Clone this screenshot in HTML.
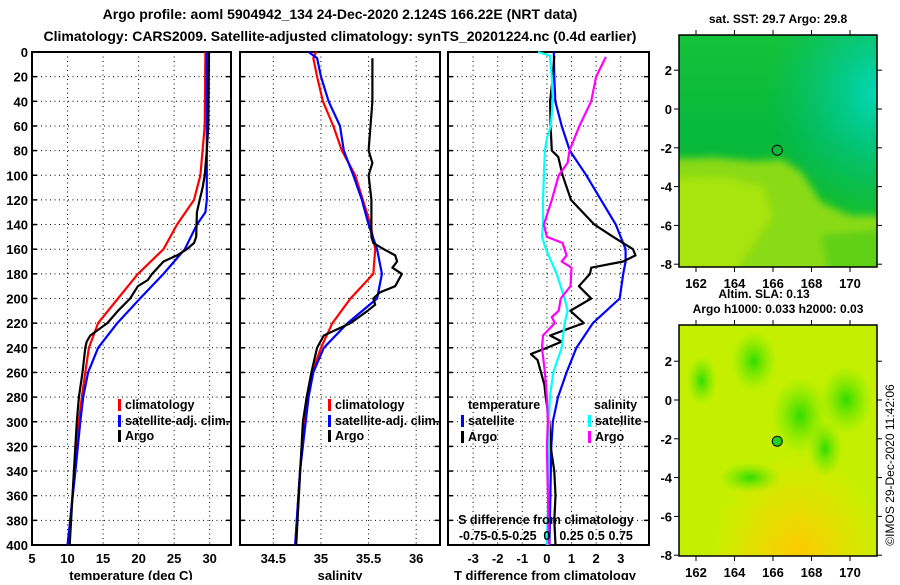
<!DOCTYPE html>
<html><head><meta charset="utf-8"><style>
body{margin:0;background:#fff;width:900px;height:580px;overflow:hidden}
svg text{font-family:"Liberation Sans",sans-serif;font-weight:bold;fill:#000}
</style></head><body>
<svg id="c" width="900" height="580" xmlns="http://www.w3.org/2000/svg">
<defs>
<linearGradient id="sstV" x1="0" y1="0" x2="0" y2="1">
<stop offset="0" stop-color="#14c23a"/><stop offset="0.45" stop-color="#06b83c"/><stop offset="0.7" stop-color="#10bc30"/><stop offset="1" stop-color="#20c828"/></linearGradient>
<radialGradient id="sstCyan" cx="1" cy="0.25" r="0.55"><stop offset="0" stop-color="#00d8b8" stop-opacity="1"/><stop offset="1" stop-color="#00c090" stop-opacity="0"/></radialGradient>
<filter id="blur"><feGaussianBlur stdDeviation="4"/></filter>
<radialGradient id="slaOr" cx="0.6" cy="1" r="0.45"><stop offset="0" stop-color="#ffc800"/><stop offset="1" stop-color="#ffd800" stop-opacity="0"/></radialGradient>
<radialGradient id="slaG" cx="0.5" cy="0.5" r="0.5"><stop offset="0" stop-color="#30dc00"/><stop offset="1" stop-color="#70e800" stop-opacity="0"/></radialGradient>
</defs>
<text x="340" y="19" font-size="14" text-anchor="middle">Argo profile: aoml 5904942_134 24-Dec-2020 2.124S 166.22E (NRT data)</text>
<text x="340" y="41" font-size="14" text-anchor="middle">Climatology: CARS2009. Satellite-adjusted climatology: synTS_20201224.nc (0.4d earlier)</text>
<g id="p1"></g>
<g id="p2"></g>
<g id="p3"></g>
<g id="m1"></g>
<g id="m2"></g>
<text transform="translate(894,465) rotate(-90)" font-size="12" text-anchor="middle" style="font-weight:normal">©IMOS 29-Dec-2020 11:42:06</text>
</svg>
<script>
// ---------- data ----------
const depthTicks=[0,20,40,60,80,100,120,140,160,180,200,220,240,260,280,300,320,340,360,380,400];
const tTicks=[5,10,15,20,25,30];
const sTicks=[34.5,35,35.5,36];
const dTicks=[-3,-2,-1,0,1,2,3];
const sDiffLabels=["-0.75","-0.5","-0.25","0","0.25","0.5","0.75"];
const sDiffVals=[-0.75,-0.5,-0.25,0,0.25,0.5,0.75];
const tClimD=[0,60,100,120,140,160,180,200,220,240,260,280,300,340,400];
const tClim=[29.4,29.3,28.7,27.8,25.4,23.5,19.9,17.1,14.3,13.0,12.5,12.0,11.6,11.0,10.1];
const tSatD=[0,120,130,140,160,180,200,220,240,260,280,300,340,400];
const tSat=[29.6,29.6,29.4,28.2,26.5,23.5,20.2,17.0,14.3,12.9,12.2,11.8,11.1,10.0];
const tArgoD=[0,60,80,100,110,120,130,150,155,160,165,170,180,185,190,200,210,220,230,235,240,260,280,300,340,400];
const tArgo=[29.9,29.8,29.6,29.3,29.0,28.6,28.2,28.1,27.8,26.8,25.4,23.5,21.9,21.3,19.9,18.8,17.1,15.6,13.2,12.7,12.5,12.1,11.6,11.3,10.9,10.3];
const sClimD=[0,5,20,40,60,80,100,120,140,160,180,200,220,240,260,280,300,340,400];
const sClim=[34.95,34.92,34.96,35.02,35.13,35.22,35.36,35.44,35.52,35.57,35.55,35.31,35.12,35.0,34.91,34.85,34.82,34.78,34.73];
const sSatD=[0,5,20,40,60,80,100,120,140,160,180,200,220,240,260,280,300,340,400];
const sSat=[34.87,34.96,35.0,35.08,35.2,35.24,35.34,35.43,35.5,35.59,35.64,35.59,35.28,35.03,34.92,34.87,34.84,34.78,34.73];
const sArgoD=[5,40,80,90,100,120,150,155,160,165,170,175,180,190,195,200,205,210,220,230,240,260,280,300,400];
const sArgo=[35.54,35.54,35.5,35.54,35.5,35.53,35.53,35.55,35.66,35.78,35.8,35.75,35.85,35.78,35.62,35.55,35.57,35.49,35.31,35.03,34.96,34.9,34.85,34.81,34.74];
const dtSatD=[0,20,40,60,80,100,120,140,160,170,180,200,220,240,260,280,300,320,400];
const dtSat=[0.28,0.3,0.34,0.6,0.93,1.6,2.2,2.8,3.2,3.2,3.1,2.96,1.87,1.2,0.8,0.45,0.24,0.18,0.1];
const dtArgoD=[3,20,40,60,80,85,100,120,140,150,160,165,170,175,180,190,200,210,220,225,230,235,240,245,250,260,270,280,300,320,340,360,380,400];
const dtArgo=[0.3,0.24,0.13,0.15,0.2,0.46,0.64,0.98,1.93,2.7,3.5,3.6,3.1,1.8,1.75,1.3,1.8,0.95,1.5,0.8,0.13,0.6,0.0,-0.65,-0.38,-0.24,-0.1,-0.05,0.1,0.15,0.3,0.35,0.3,0.35];
const dsSatD=[0,3,20,40,60,70,80,100,120,140,150,160,180,200,210,220,240,260,280,300,340,400];
const dsSat=[-0.09,0.03,0.05,0.06,0.04,0.0,-0.02,-0.03,-0.04,-0.04,-0.05,-0.01,0.1,0.18,0.21,0.18,0.15,0.065,0.03,0.02,0.02,0.0];
const dsArgoD=[4,20,40,60,80,90,100,120,140,150,155,165,170,175,190,200,210,215,220,230,240,260,280,300,320,360,400];
const dsArgo=[0.6,0.5,0.45,0.33,0.23,0.21,0.12,0.05,-0.03,0.0,0.16,0.2,0.15,0.25,0.24,0.14,0.12,0.05,0.08,-0.04,-0.05,-0.02,0.0,0.01,0.0,0.01,0.02];
const lonTicks=[162,164,166,168,170];
const latTicks=[2,0,-2,-4,-6,-8];
const argoPos=[166.22,-2.124];
// ---------- helpers ----------
const NS="http://www.w3.org/2000/svg";
function mk(p,t,a){const e=document.createElementNS(NS,t);for(const k in a)e.setAttribute(k,a[k]);p.appendChild(e);return e;}
const Y0=52,Y1=545;
const yD=d=>Y0+(Y1-Y0)*d/400;
function panel(g,x0,x1,vmin,vmax,ticks,labels,yl){
  const xs=v=>x0+(x1-x0)*(v-vmin)/(vmax-vmin);
  depthTicks.forEach(d=>{const l=mk(g,'line',{x1:x0,x2:x1,y1:yD(d),y2:yD(d),stroke:'#000','stroke-dasharray':'1,3.5'});
    
    
    mk(g,'line',{x1:x0,x2:x0+5,y1:yD(d),y2:yD(d),stroke:'#000','stroke-width':1.5});
    mk(g,'line',{x1:x1-5,x2:x1,y1:yD(d),y2:yD(d),stroke:'#000','stroke-width':1.5});
    if(yl){const t=mk(g,'text',{x:28,y:yD(d)+5,'font-size':13,'text-anchor':'end'});t.textContent=d;
      
      }
  });
  ticks.forEach((v,i)=>{const x=xs(v);
    const l=mk(g,'line',{x1:x,x2:x,y1:Y0,y2:Y1,stroke:'#000','stroke-dasharray':'1,3.5'});
    
    
    const t=mk(g,'text',{x:x,y:563,'font-size':13,'text-anchor':'middle'});t.textContent=labels[i];
    
    });
  const r=mk(g,'rect',{x:x0,y:Y0,width:x1-x0,height:Y1-Y0,fill:'none',stroke:'#000','stroke-width':2});
  
  
  return xs;
}
function line(g,xs,vals,ds,col,name){
  const pts=vals.map((v,i)=>xs(v).toFixed(1)+','+yD(ds[i]).toFixed(1)).join(' ');
  const p=mk(g,'polyline',{points:pts,fill:'none',stroke:col,'stroke-width':2.2,'stroke-linejoin':'round'});
  
  
}
function txt(g,x,y,s,size,name,anchor){const t=mk(g,'text',{x:x,y:y,'font-size':size,'text-anchor':anchor||'start'});t.textContent=s;
  
  return t;}
function leg(g,x,y,col,label){mk(g,'rect',{x:x,y:y-10,width:3,height:12,fill:col});
  txt(g,x+7,y,label,12.5,'legend-entry');}
// ---------- panel 1 ----------
const p1=document.getElementById('p1');
const xT=panel(p1,32,231,5,33,tTicks,tTicks.map(String),true);
line(p1,xT,tClim,tClimD,'#f00','temperature-climatology-line');
line(p1,xT,tSat,tSatD,'#00f','temperature-satellite-line');
line(p1,xT,tArgo,tArgoD,'#000','temperature-argo-line');
txt(p1,131,580,'temperature (deg C)',13,'x-axis-title','middle');
leg(p1,118,409,'#f00','climatology');leg(p1,118,425,'#00f','satellite-adj. clim.');leg(p1,118,440,'#000','Argo');
// ---------- panel 2 ----------
const p2=document.getElementById('p2');
const xS=panel(p2,240,440,34.15,36.25,sTicks,sTicks.map(String),false);
line(p2,xS,sClim,sClimD,'#f00','salinity-climatology-line');
line(p2,xS,sSat,sSatD,'#00f','salinity-satellite-line');
line(p2,xS,sArgo,sArgoD,'#000','salinity-argo-line');
txt(p2,340,580,'salinity',13,'x-axis-title','middle');
leg(p2,328,409,'#f00','climatology');leg(p2,328,425,'#00f','satellite-adj. clim.');leg(p2,328,440,'#000','Argo');
// ---------- panel 3 ----------
const p3=document.getElementById('p3');
const xd=panel(p3,448,649,-4.02,4.15,dTicks,dTicks.map(String),false);
const xds=v=>xd(v*4);
line(p3,xd,dtSat,dtSatD,'#00f','tdiff-satellite-line');
line(p3,xd,dtArgo,dtArgoD,'#000','tdiff-argo-line');
line(p3,xds,dsSat,dsSatD,'#0ff','sdiff-satellite-line');
line(p3,xds,dsArgo,dsArgoD,'#f0f','sdiff-argo-line');
txt(p3,545,580,'T difference from climatology',13,'x-axis-title','middle');
txt(p3,546,524,'S difference from climatology',12.5,'s-axis-title','middle');
sDiffVals.forEach((v,i)=>txt(p3,xds(v),540,sDiffLabels[i],12.5,'s-tick-label','middle'));
txt(p3,468,409,'temperature',12.5,'legend-heading');
txt(p3,594,409,'salinity',12.5,'legend-heading');
leg(p3,461,425,'#00f','satellite');leg(p3,461,441,'#000','Argo');
leg(p3,588,425,'#0ff','satellite');leg(p3,588,441,'#f0f','Argo');
// ---------- maps ----------
function map(g,y0,y1,lat0y,title,kind){
  const x0=679,x1=877;
  const lx=lon=>696+(lon-162)*19.25;
  const ly=lat=>lat0y-lat*19.4;
  const cl=mk(g,'clipPath',{id:'cl'+kind});mk(cl,'rect',{x:x0,y:y0,width:x1-x0,height:y1-y0});
  const f=mk(g,'g',{'clip-path':'url(#cl'+kind+')'});
  if(kind==='sst'){
    mk(f,'rect',{x:x0,y:y0,width:x1-x0,height:y1-y0,fill:'url(#sstV)'});
    mk(f,'rect',{x:x0,y:y0,width:x1-x0,height:y1-y0,fill:'url(#sstCyan)'});
    const pts=[[160,-2.6],[163,-2.5],[165,-2.7],[166.5,-2.6],[167.5,-3.3],[168.5,-4.8],[170,-5.5],[172,-5.5],[172,-9],[160,-9]];
    mk(f,'polygon',{points:pts.map(p=>lx(p[0])+','+ly(p[1])).join(' '),fill:'#8ada12',filter:'url(#blur)'});
    const pts2=[[160,-3.6],[163.5,-3.5],[165.5,-4],[166,-5.5],[164,-8.5],[160,-9]];
    mk(f,'polygon',{points:pts2.map(p=>lx(p[0])+','+ly(p[1])).join(' '),fill:'#a8e410',filter:'url(#blur)'});
    const pts3=[[168.5,-6.5],[172,-6.2],[172,-9],[169,-9]];
    mk(f,'polygon',{points:pts3.map(p=>lx(p[0])+','+ly(p[1])).join(' '),fill:'#60d018',filter:'url(#blur)'});
  } else {
    mk(f,'rect',{x:x0,y:y0,width:x1-x0,height:y1-y0,fill:'#c4f000'});
    mk(f,'rect',{x:x0,y:y0,width:x1-x0,height:y1-y0,fill:'url(#slaOr)'});
    [[165,2,1.2,1.6],[169.8,0,1.4,1.8],[167.4,-0.8,1.5,2],[162.3,1,0.8,1.3],[164.8,-4,1.6,0.8],[168.7,-2.5,0.9,1.5]].forEach(b=>{
      mk(f,'ellipse',{cx:lx(b[0]),cy:ly(b[1]),rx:b[2]*19.25,ry:b[3]*19.4,fill:'url(#slaG)'});});
  }
  const r=mk(g,'rect',{x:x0,y:y0,width:x1-x0,height:y1-y0,fill:'none',stroke:'#000','stroke-width':1.5});
  
  
  lonTicks.forEach(l=>{mk(g,'line',{x1:lx(l),x2:lx(l),y1:y0-5,y2:y0,stroke:'#000'});mk(g,'line',{x1:lx(l),x2:lx(l),y1:y1,y2:y1+5,stroke:'#000'});
    txt(g,lx(l),y1+21,String(l),13,'lon-tick-label','middle');});
  latTicks.forEach(l=>{mk(g,'line',{x1:x0-5,x2:x0,y1:ly(l),y2:ly(l),stroke:'#000'});mk(g,'line',{x1:x1,x2:x1+5,y1:ly(l),y2:ly(l),stroke:'#000'});
    txt(g,672,ly(l)+5,String(l),13,'lat-tick-label','end');});
  const c=mk(g,'circle',{cx:lx(argoPos[0]),cy:ly(argoPos[1]),r:5,fill:kind==='sst'?'none':'#20d020',stroke:'#000','stroke-width':1});
  
  
  txt(g,778,title[1],title[0],12,'map-title','middle');
}
map(document.getElementById('m1'),35,267,109,['sat. SST: 29.7 Argo: 29.8',23],'sst');
map(document.getElementById('m2'),325,556,400,['Argo h1000: 0.033 h2000: 0.03',313],'sla');
txt(document.getElementById('m2'),764,298,'Altim. SLA: 0.13',12,'map-title','middle');
</script>
</body></html>
